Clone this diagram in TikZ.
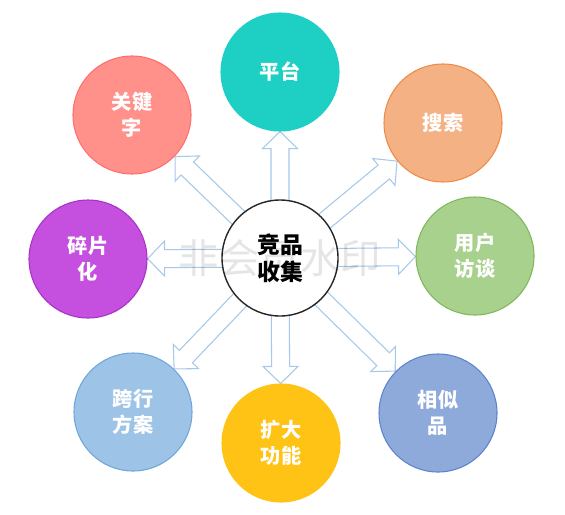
\documentclass[tikz,border=0pt]{standalone}
\usepackage{fontspec}
\newfontfamily\cjk{Noto Sans CJK SC}
\usetikzlibrary{calc,backgrounds}
\definecolor{platFill}{RGB}{30,208,196}
\definecolor{keywFill}{RGB}{255,145,138}
\definecolor{keywLine}{RGB}{255,110,110}
\definecolor{srchFill}{RGB}{244,177,131}
\definecolor{srchLine}{RGB}{240,138,69}
\definecolor{fragFill}{RGB}{197,80,224}
\definecolor{fragLine}{RGB}{165,49,199}
\definecolor{intvFill}{RGB}{169,209,142}
\definecolor{intvLine}{RGB}{127,183,90}
\definecolor{crossFill}{RGB}{157,195,230}
\definecolor{crossLine}{RGB}{111,166,218}
\definecolor{expdFill}{RGB}{255,195,22}
\definecolor{simiFill}{RGB}{142,170,219}
\definecolor{simiLine}{RGB}{91,131,205}
\definecolor{arrowBlue}{RGB}{166,200,234}

\tikzset{
  topic/.style={circle,minimum size=2.36cm,inner sep=0pt,align=center,text=white,line width=0.6pt,
    font=\cjk\bfseries\fontsize{11.5}{15}\selectfont},
  hubnode/.style={circle,minimum size=2.32cm,inner sep=0pt,align=center,fill=white,draw=black!85,
    line width=0.8pt,font=\cjk\bfseries\fontsize{13}{15.5}\selectfont},
  watermark/.style={text=black,text opacity=0.1,font=\cjk\fontsize{23}{23}\selectfont},
  hollowarrow/.style={draw=arrowBlue,fill=white,line width=0.6pt,line join=miter,
    to path={
      let \p1=(\tikztostart), \p2=(\tikztotarget),
          \n1={atan2(\y2-\y1,\x2-\x1)}, \n2={\n1+180},
          \p3=(\tikztotarget.\n2),
          \n3={veclen(\x3-\x1,\y3-\y1)}, \n4={\n3-9.7}
      in ($(\p1)+(\n1+90:0.18cm)$)
      -- ($(\p1)+(\n1:{\n4*1pt})+(\n1+90:0.18cm)$)
      -- ($(\p1)+(\n1:{\n4*1pt})+(\n1+90:0.35cm)$)
      -- ($(\p1)+(\n1:{\n3*1pt})$)
      -- ($(\p1)+(\n1:{\n4*1pt})+(\n1-90:0.35cm)$)
      -- ($(\p1)+(\n1:{\n4*1pt})+(\n1-90:0.18cm)$)
      -- ($(\p1)+(\n1-90:0.18cm)$) -- cycle}}
}

\begin{document}
\begin{tikzpicture}
  \useasboundingbox (0,0) rectangle (11.3,-10.28);

  % Center
  \node[hubnode] (hub) at (5.60,-5.16) {竞品\\收集};

  % Topics around
  \node[topic,fill=platFill,draw=platFill] (plat) at (5.60,-1.44) {平台};
  \node[topic,fill=keywFill,draw=keywLine] (keyw) at (2.64,-2.30) {关键\\字};
  \node[topic,fill=srchFill,draw=srchLine] (srch) at (8.86,-2.46) {搜索};
  \node[topic,fill=fragFill,draw=fragLine] (frag) at (1.76,-5.18) {碎片\\化};
  \node[topic,fill=intvFill,draw=intvLine] (intv) at (9.50,-5.12) {用户\\访谈};
  \node[topic,fill=crossFill,draw=crossLine] (cross) at (2.66,-8.24) {跨行\\方案};
  \node[topic,fill=expdFill,draw=expdFill] (expd) at (5.62,-8.86) {扩大\\功能};
  \node[topic,fill=simiFill,draw=simiLine] (simi) at (8.76,-8.26) {相似\\品};

  % Arrows out of the center
  \begin{pgfonlayer}{background}
    \foreach \t in {plat,keyw,srch,frag,intv,cross,expd,simi}
      \draw[hollowarrow] (hub) to (\t);
  \end{pgfonlayer}

  % Watermark over all
  \node[watermark] (wm) at (hub) {非会员水印};
\end{tikzpicture}
\end{document}
